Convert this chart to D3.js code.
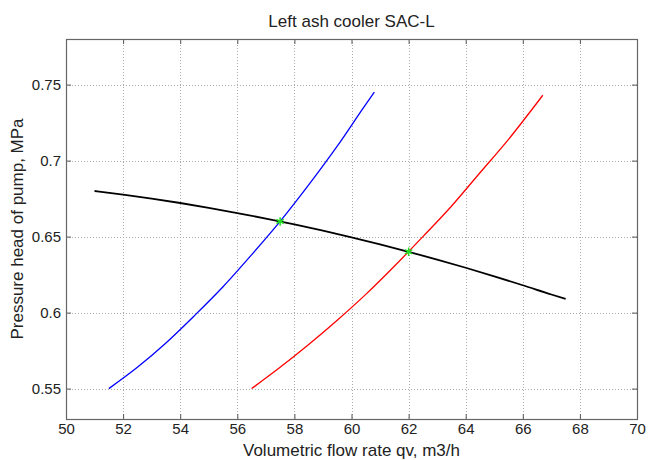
<!DOCTYPE html>
<html>
<head>
<meta charset="utf-8">
<script src="https://cdn.jsdelivr.net/npm/d3@7"></script>
<style>
  body { margin: 0; background: #fff; }
  text { font-family: "Liberation Sans", Arial, sans-serif; fill: #222; }
</style>
</head>
<body>
<svg id="chart"></svg>
<script>
const width = 648;
const height = 460;

// data
const blueQ = [51.5, 52.5, 53.5, 54.5, 55.5, 56.5, 57.5, 58.5, 59.5, 60.5, 60.8];
const blueH = [0.550, 0.564, 0.580, 0.598, 0.617, 0.638, 0.660, 0.684, 0.7095, 0.737, 0.745];

const redQ = [56.5, 57.5, 58.5, 59.5, 60.5, 61.5, 62.5, 63.5, 64.5, 65.5, 66.7];
const redH = [0.550, 0.564, 0.579, 0.595, 0.612, 0.6305, 0.650, 0.670, 0.692, 0.714, 0.743];

const pumpQ = [51, 52, 53, 54, 55, 56, 57, 58, 59, 60, 61, 62, 63, 64, 65, 66, 67, 67.5];
const pumpH = [0.680, 0.6776, 0.675, 0.6721, 0.6689, 0.6655, 0.6619, 0.658, 0.6539, 0.6495, 0.6449, 0.640, 0.6349, 0.6295, 0.6239, 0.618, 0.6119, 0.609];

const opQ = [57.5, 62];
const opH = [0.66, 0.64];

const xTicks = [50, 52, 54, 56, 58, 60, 62, 64, 66, 68, 70];
const yTicks = [0.55, 0.6, 0.65, 0.7, 0.75];
const yTickLabels = ["0.55", "0.6", "0.65", "0.7", "0.75"];

const margin = { left: 66, right: 11, top: 39, bottom: 41 };

const svg = d3.select("#chart")
    .attr("width", width)
    .attr("height", height);

const x = d3.scaleLinear().domain([50, 70]).range([margin.left, width - margin.right]);
const y = d3.scaleLinear().domain([0.53, 0.78]).range([height - margin.bottom, margin.top]);

const x0 = x.range()[0], x1 = x.range()[1];
const y0 = y.range()[0], y1 = y.range()[1];

// grid
const grid = svg.append("g")
    .attr("stroke", "#aaa")
    .attr("stroke-width", 1)
    .attr("stroke-dasharray", "1,2");

grid.selectAll(".gx")
    .data(xTicks.slice(1, -1))
    .enter().append("line")
    .attr("x1", d => Math.round(x(d)) + 0.5)
    .attr("x2", d => Math.round(x(d)) + 0.5)
    .attr("y1", y1)
    .attr("y2", y0);

grid.selectAll(".gy")
    .data(yTicks)
    .enter().append("line")
    .attr("x1", x0)
    .attr("x2", x1)
    .attr("y1", d => Math.round(y(d)) + 0.5)
    .attr("y2", d => Math.round(y(d)) + 0.5);

// axes, ticks pointing inward
const xAxis = d3.axisBottom(x).tickValues(xTicks).tickSizeInner(-5).tickSizeOuter(0).tickPadding(4);
const yAxis = d3.axisLeft(y).tickValues(yTicks).tickSizeInner(-5).tickSizeOuter(0).tickPadding(5)
    .tickFormat((d, i) => yTickLabels[i]);

svg.append("g")
    .attr("transform", `translate(0,${y0})`)
    .call(xAxis)
    .call(g => g.select(".domain").remove())
    .call(g => g.selectAll("line").attr("stroke", "#555"))
    .call(g => g.selectAll("text").attr("font-size", 15).attr("fill", "#222"));

svg.append("g")
    .attr("transform", `translate(${x0},0)`)
    .call(yAxis)
    .call(g => g.select(".domain").remove())
    .call(g => g.selectAll("line").attr("stroke", "#555"))
    .call(g => g.selectAll("text").attr("font-size", 15).attr("fill", "#222"));

// mirrored ticks on top and right
svg.append("g")
    .attr("transform", `translate(0,${y1})`)
    .call(d3.axisTop(x).tickValues(xTicks).tickSizeInner(-5).tickSizeOuter(0).tickFormat(""))
    .call(g => g.select(".domain").remove())
    .call(g => g.selectAll("line").attr("stroke", "#555"));

svg.append("g")
    .attr("transform", `translate(${x1},0)`)
    .call(d3.axisRight(y).tickValues(yTicks).tickSizeInner(-5).tickSizeOuter(0).tickFormat(""))
    .call(g => g.select(".domain").remove())
    .call(g => g.selectAll("line").attr("stroke", "#555"));

svg.append("rect")
    .attr("x", x0 + 0.5)
    .attr("y", y1 + 0.5)
    .attr("width", x1 - x0)
    .attr("height", y0 - y1)
    .attr("fill", "none")
    .attr("stroke", "#666")
    .attr("stroke-width", 1.2);

// curves
const line = d3.line()
    .x(d => x(d[0]))
    .y(d => y(d[1]))
    .curve(d3.curveMonotoneX);

const curves = [
    { q: blueQ, h: blueH, color: "#0000ff", w: 1.3 },
    { q: redQ, h: redH, color: "#ff0000", w: 1.3 },
    { q: pumpQ, h: pumpH, color: "#000", w: 1.8 }
];

svg.selectAll(".curve")
    .data(curves)
    .enter().append("path")
    .attr("class", "curve")
    .attr("d", c => line(c.q.map((q, i) => [q, c.h[i]])))
    .attr("fill", "none")
    .attr("stroke", c => c.color)
    .attr("stroke-width", c => c.w);

// operating points
svg.selectAll(".op")
    .data(opQ.map((q, i) => [q, opH[i]]))
    .enter().append("path")
    .attr("class", "op")
    .attr("transform", d => `translate(${x(d[0])},${y(d[1])})`)
    .attr("d", d3.symbol(d3.symbolAsterisk, 50)())
    .attr("fill", "none")
    .attr("stroke", "#22dd22")
    .attr("stroke-width", 1.5);

// labels
svg.append("text")
    .attr("x", (x0 + x1) / 2)
    .attr("y", 21)
    .attr("text-anchor", "middle")
    .attr("dominant-baseline", "central")
    .attr("font-size", 17)
    .text("Left ash cooler SAC-L");

svg.append("text")
    .attr("x", (x0 + x1) / 2)
    .attr("y", 450)
    .attr("text-anchor", "middle")
    .attr("dominant-baseline", "central")
    .attr("font-size", 17)
    .text("Volumetric flow rate qv, m3/h");

svg.append("text")
    .attr("transform", `translate(17,${(y0 + y1) / 2}) rotate(-90)`)
    .attr("text-anchor", "middle")
    .attr("dominant-baseline", "central")
    .attr("font-size", 17)
    .text("Pressure head of pump, MPa");
</script>
</body>
</html>
